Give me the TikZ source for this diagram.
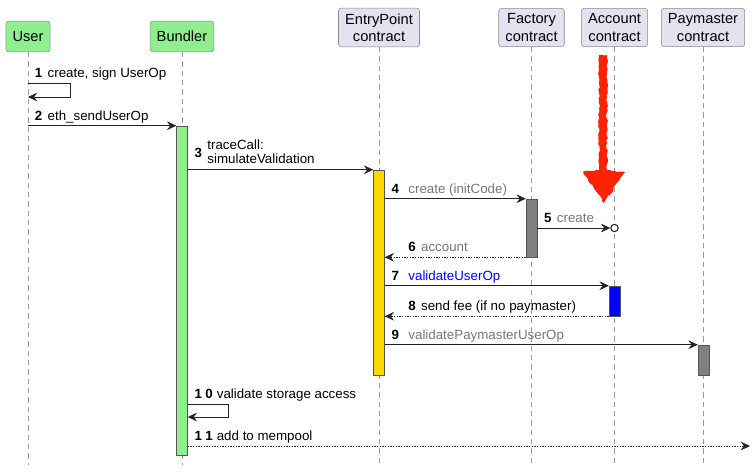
\documentclass[tikz,border=0pt]{standalone}
\usepackage{fontspec}
\setmainfont{Liberation Sans}
\usetikzlibrary{arrows.meta, positioning, calc, fit, decorations.pathmorphing}
\definecolor{headfill}{HTML}{E2E2F0}
\definecolor{headline}{HTML}{8A8A8A}
\definecolor{usergreen}{HTML}{90EE90}
\definecolor{lifegray}{HTML}{9A9A9A}
\definecolor{actline}{HTML}{555555}
\definecolor{epyellow}{HTML}{FFD700}
\definecolor{actgray}{HTML}{808080}
\definecolor{acctblue}{HTML}{0000FF}
\definecolor{txtgray}{HTML}{777777}
\definecolor{arrowgray}{HTML}{222222}
\definecolor{handred}{HTML}{FF2200}
\tikzset{
  head/.style={draw=headline, fill=#1, rounded corners=2pt, align=center, minimum height=23pt,
    inner xsep=5pt, inner ysep=4pt, font=\fontsize{11}{13}\selectfont},
  life/.style={draw=lifegray, dash pattern=on 4pt off 3pt},
  act/.style={draw=actline, fill=#1, inner xsep=4.1pt, inner ysep=0pt},
  arr/.style={draw=arrowgray, -{Stealth[length=7pt, width=6.5pt, inset=2.5pt]}},
  ret/.style={arr, dash pattern=on 1pt off 1pt},
  lbl/.style={anchor=base west, inner sep=0pt, xshift=5pt, yshift=4pt, font=\fontsize{10}{11.5}\selectfont},
}
\newcommand{\num}[1]{\textbf{#1}\hspace{4pt}}
\newcommand{\numw}[1]{\textbf{#1}\hspace{7pt}}

\begin{document}
\begin{tikzpicture}[x=0.75pt, y=-0.75pt]
  \useasboundingbox (0,0) rectangle (752,471);
  % participants
  \node[head=usergreen] (user) at (28,36.5) {User};
  \node[head=usergreen] (bund) at (182,36.5) {Bundler};
  \node[head=headfill] (ep) at (379,27.5) {EntryPoint\\contract};
  \node[head=headfill] (fact) at (531.5,27.5) {Factory\\contract};
  \node[head=headfill] (acct) at (614.5,27.5) {Account\\contract};
  \node[head=headfill] (pay) at (703,27.5) {Paymaster\\contract};
  \coordinate (bot) at (0,465);
  \foreach \p in {user, bund, ep, fact, acct, pay}
    \draw[life] (\p.south) -- (\p |- bot);

  % activations
  \node[act=usergreen, fit={(182,126) (182,455)}] (bact) {};
  \node[act=epyellow, fit={(379,170) (379,375)}] (eact) {};
  \node[act=actgray, fit={(531.5,199) (531.5,257)}] (fact2) {};
  \node[act=acctblue, fit={(614.5,286) (614.5,316)}] (aact) {};
  \node[act=actgray, fit={(703.5,345) (703.5,375)}] (pact) {};
  \node[circle, draw=arrowgray, fill=white, minimum size=5.5pt, inner sep=0pt, line width=0.8pt] (born) at (acct |- 0,228) {};
  \coordinate (out) at (750,446);

  % messages
  \draw[arr] (user |- 0,83) node[lbl] (m1) {\num{1}create, sign UserOp} -- ++(42,0) -- ++(0,14) -- (user |- 0,97);
  \draw[arr] (user |- bact.north) node[lbl] (m2) {\num{2}eth\_sendUserOp} -- (bact.north west);
  \draw[arr] (bact.east |- eact.north) node[lbl, anchor=south west, yshift=-2.5pt] (m3)
    {\num{3}\def\arraystretch{0.85}\begin{tabular}{@{}l@{}}traceCall:\\simulateValidation\end{tabular}} -- (eact.north west);
  \draw[arr] (eact.east |- fact2.north) node[lbl] (m4) {\numw{4}\textcolor{txtgray}{create (initCode)}} -- (fact2.north west);
  \draw[arr] (fact2.east |- born) node[lbl] (m5) {\num{5}\textcolor{txtgray}{create}} -- (born.west);
  \draw[ret] (fact2.south west) -- (eact.east |- fact2.south) node[lbl, xshift=12.5pt] (m6) {\num{6}\textcolor{txtgray}{account}};
  \draw[arr] (eact.east |- aact.north) node[lbl] (m7) {\numw{7}\textcolor{acctblue}{validateUserOp}} -- (aact.north west);
  \draw[ret] (aact.south west) -- (eact.east |- aact.south) node[lbl, xshift=12.5pt] (m8) {\num{8}send fee (if no paymaster)};
  \draw[arr] (eact.east |- pact.north) node[lbl] (m9) {\numw{9}\textcolor{txtgray}{validatePaymasterUserOp}} -- (pact.north west);
  \draw[arr] (bact.east |- 0,404) node[lbl] (m10) {\textbf{1\hspace{2.5pt}0}\hspace{3pt}validate storage access} -- ++(41,0) -- ++(0,13) -- (bact.east |- 0,417);
  \draw[ret] (bact.east |- out) node[lbl] (m11) {\textbf{1\hspace{2.5pt}1}\hspace{3pt}add to mempool} -- (out);

  % hand-drawn marker
  \pgfmathsetseed{7}
  \fill[handred, decorate, decoration={random steps, segment length=2pt, amplitude=0.7pt}]
    (599,55) -- (607,55) -- (607,170) -- (625,172) -- (604,203) -- (583,172) -- (599,170) -- cycle;
\end{tikzpicture}
\end{document}
